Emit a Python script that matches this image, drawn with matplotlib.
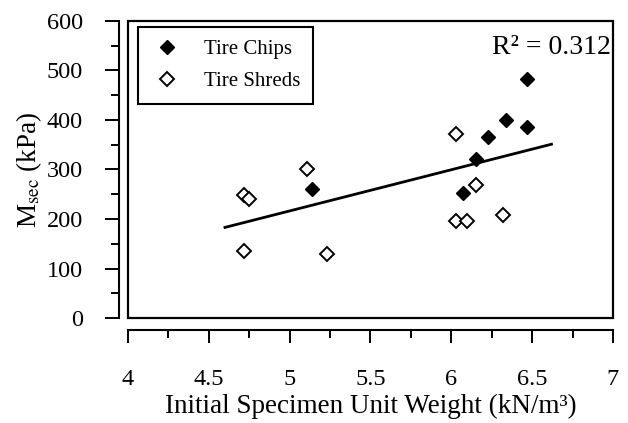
import matplotlib
matplotlib.use("Agg")
import matplotlib.pyplot as plt
import numpy as np
from matplotlib.patches import Rectangle

plt.rcParams["font.family"] = ["Liberation Serif", "DejaVu Serif"]
plt.rcParams["mathtext.fontset"] = "stix"

# secant modulus vs. initial unit weight
chips_x = [6.47, 6.34, 6.47, 6.23, 6.15, 6.07, 5.14]
chips_y = [482, 400, 385, 366, 322, 253, 260]
shreds_x = [6.03, 5.11, 4.72, 4.75, 6.15, 6.03, 6.10, 6.32, 4.72, 5.23]
shreds_y = [372, 300, 249, 240, 268, 195, 196, 208, 135, 130]
r2_text = "R² = 0.312"
fit_range = [4.60, 6.62]

all_x = np.array(chips_x + shreds_x)
all_y = np.array(chips_y + shreds_y)
slope, icpt = np.polyfit(all_x, all_y, 1)

fig = plt.figure(figsize=(6.28, 4.23), dpi=100)
ax = fig.add_axes([0.2038, 0.2482, 0.7722, 0.7022])

ax.plot(chips_x, chips_y, "D", color="black", ms=7.5, label="Tire Chips", zorder=3)
ax.plot(shreds_x, shreds_y, "D", mfc="white", mec="black", mew=1.4, ms=7,
        label="Tire Shreds", zorder=3)
fx = np.array(fit_range)
ax.plot(fx, slope * fx + icpt, color="black", lw=2, zorder=2)

ax.set_xlim(4, 7)
ax.set_ylim(0, 600)
ax.set_xticks(np.arange(4, 7.01, 0.5))
ax.set_xticks(np.arange(4, 7.01, 0.25), minor=True)
ax.set_xticklabels(["4", "4.5", "5", "5.5", "6", "6.5", "7"])
ax.set_yticks(np.arange(0, 601, 100))
ax.set_yticks(np.arange(0, 601, 50), minor=True)

# detached axis lines, plot frame drawn separately
ax.spines["left"].set_position(("outward", 6.5))
ax.spines["bottom"].set_position(("outward", 8.5))
for s in ["left", "bottom"]:
    ax.spines[s].set_linewidth(1.5)
for s in ["top", "right"]:
    ax.spines[s].set_visible(False)
ax.add_patch(Rectangle((0, 0), 1, 1, transform=ax.transAxes, fill=False,
                       lw=1.6, ec="black", clip_on=False, zorder=4))

ax.tick_params(axis="y", which="major", direction="out", length=10, width=1.4,
               pad=16, labelsize=17.5)
ax.tick_params(axis="y", which="minor", direction="out", length=6, width=1.4)
ax.tick_params(axis="x", which="major", direction="out", length=9, width=1.4,
               pad=19, labelsize=17.5)
ax.tick_params(axis="x", which="minor", direction="out", length=6, width=1.4)

ax.set_xlabel("Initial Specimen Unit Weight (kN/m³)", fontsize=19.5, labelpad=3)
ax.set_ylabel(r"M$_{\mathrm{sec}}$ (kPa)", fontsize=19.5, labelpad=2)

ax.text(0.995, 0.91, r2_text, transform=ax.transAxes, ha="right", va="center",
        fontsize=20)

leg = ax.legend(loc="upper left", bbox_to_anchor=(0.02, 0.98), borderaxespad=0,
                fontsize=15, frameon=True, fancybox=False, edgecolor="black",
                framealpha=1, handlelength=1.6, handletextpad=1.0,
                labelspacing=0.6, borderpad=0.6)
leg.get_frame().set_linewidth(1.5)

fig.savefig("out.png", dpi=100)
